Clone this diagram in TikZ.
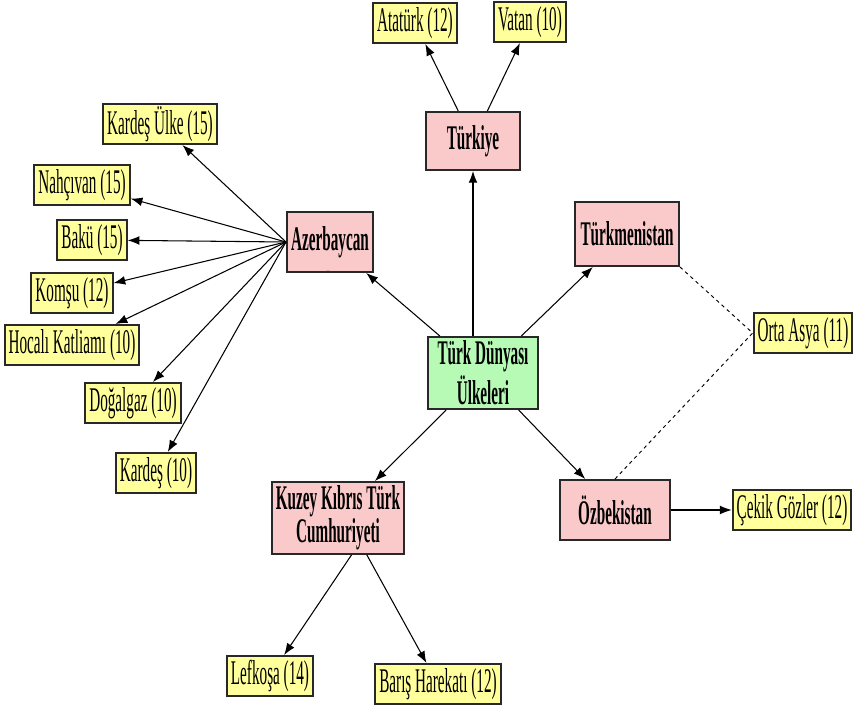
\documentclass[tikz,border=0pt]{standalone}
\usepackage{fontspec}
\setmainfont{Liberation Serif}[FakeStretch=0.44]
\usetikzlibrary{arrows.meta}

\definecolor{ulkepembe}{RGB}{250,202,202}
\definecolor{kavramsari}{RGB}{255,255,155}
\definecolor{merkezyesil}{RGB}{182,250,182}
\definecolor{kenar}{RGB}{40,40,40}

\newcommand{\yazi}{\fontsize{29.5}{32}\selectfont}

\tikzset{
  kutu/.style={draw=kenar, line width=1.7pt, align=center, inner sep=0pt},
  ulke/.style={kutu, fill=ulkepembe, font=\yazi\bfseries},
  merkez/.style={kutu, fill=merkezyesil, font=\yazi\bfseries,
    minimum width=3.3cm, minimum height=2.16cm},
  kavram/.style={kutu, fill=kavramsari, font=\yazi,
    minimum height=1.2cm, inner xsep=0.12cm},
  bag/.style={->, line width=0.9pt},
  kesik/.style={dashed, line width=0.8pt}
}

\begin{document}
\begin{tikzpicture}[x=0.03cm, y=-0.03cm, >={Latex[length=10pt,width=7.5pt]}]

    \useasboundingbox (0,0) rectangle (856,705);

    % center
    \node (dunya) [merkez] at (483,373) {Türk Dünyası\\[2pt]Ülkeleri};

    % countries
    \node (tur)  [ulke, minimum width=2.82cm, minimum height=1.74cm] at (473,141) {Türkiye};
    \node (azer) [ulke, minimum width=2.58cm, minimum height=1.8cm]  at (330,242) {Azerbaycan};
    \node (tkm)  [ulke, minimum width=3.12cm, minimum height=1.92cm] at (627,234) {Türkmenistan};
    \node (ozb)  [ulke, minimum width=3.3cm,  minimum height=1.8cm]  at (615,510) {Özbekistan};
    \node (kktc) [ulke, minimum width=3.96cm, minimum height=2.16cm] at (338,518) {Kuzey Kıbrıs Türk\\[-4pt]Cumhuriyeti};
    \node (azernokta) [font=\scriptsize, text=gray] at (328,271) {....};

    % words
    %% Türkiye
    \node (ataturk) [kavram] at (415,23) {Atatürk (12)};
    \node (vatan)   [kavram] at (530,22) {Vatan (10)};
    %% Azerbaycan
    \node (kulke)   [kavram] at (160,124) {Kardeş Ülke (15)};
    \node (nahc)    [kavram] at (82,185)  {Nahçıvan (15)};
    \node (baku)    [kavram] at (92,240)  {Bakü (15)};
    \node (komsu)   [kavram] at (72,293)  {Komşu (12)};
    \node (hocali)  [kavram] at (72,345)  {Hocalı Katliamı (10)};
    \node (dogalgaz)[kavram] at (133,403) {Doğalgaz (10)};
    \node (kardes)  [kavram] at (156,473) {Kardeş (10)};
    %% Orta Asya
    \node (orta)    [kavram] at (803,333) {Orta Asya (11)};
    \node (cekik)   [kavram] at (792,510) {Çekik Gözler (12)};
    %% KKTC
    \node (lefkosa) [kavram] at (270,676) {Lefkoşa (14)};
    \node (baris)   [kavram] at (438,684) {Barış Harekatı (12)};

    % arrows from the center
    \draw [bag] (dunya.north -| tur) -- (tur);
    \draw [bag] (dunya) -- (azer);
    \draw [bag] (dunya) -- (tkm);
    \draw [bag] (dunya) -- (ozb);
    \draw [bag] (dunya) -- (kktc);

    % arrows from the countries
    \draw [bag] (tur) -- (ataturk);
    \draw [bag] (tur) -- (vatan);
    \foreach \k in {kulke, nahc, baku, komsu, hocali, dogalgaz, kardes}
        \draw [bag] (azer.west) -- (\k);
    \draw [bag] (ozb) -- (cekik);
    \draw [bag] (kktc.-70) -- (lefkosa);
    \draw [bag] (kktc.-52) -- (baris);

    % dashed
    \draw [kesik] (tkm.south east) -- (orta.west);
    \draw [kesik] (ozb.north) -- (orta.west);

\end{tikzpicture}
\end{document}
